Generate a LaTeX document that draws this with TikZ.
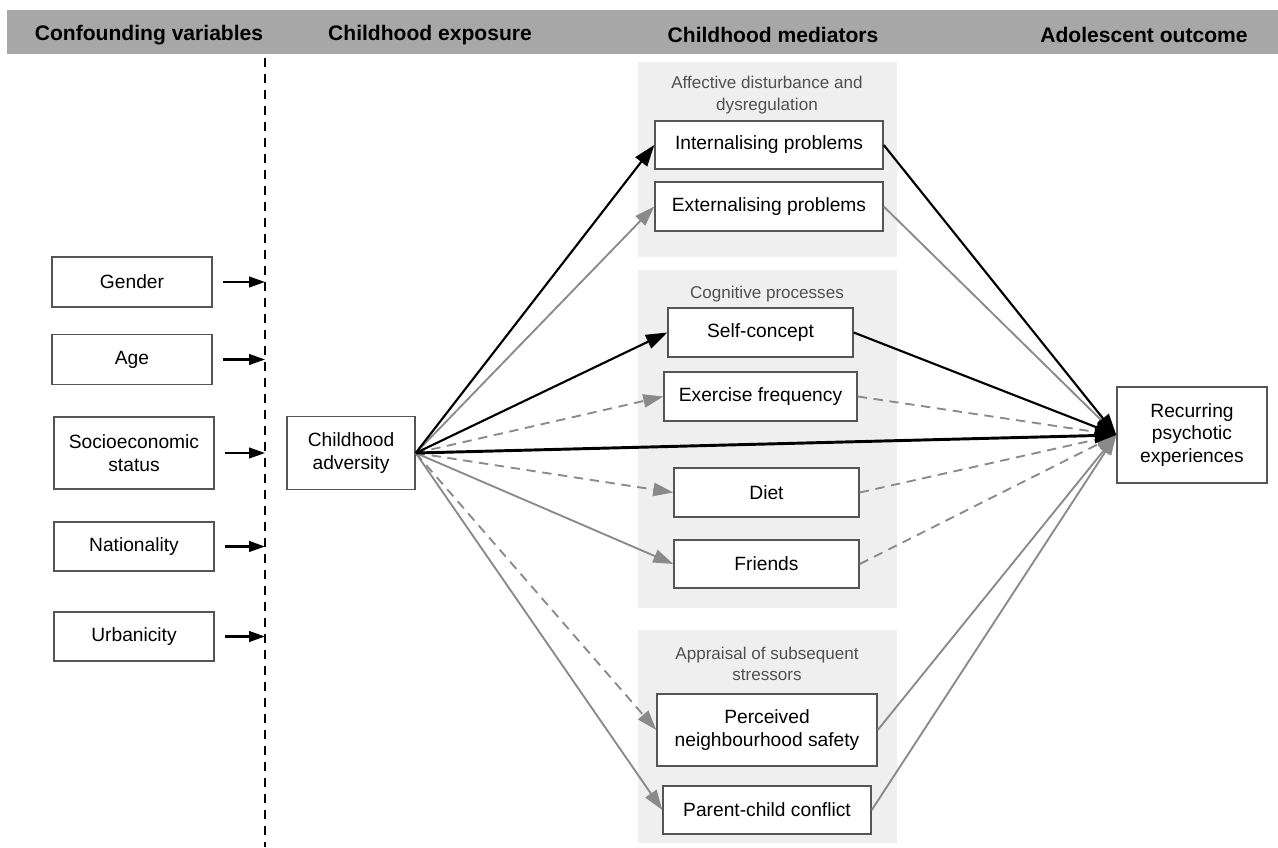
\documentclass[tikz,border=0pt]{standalone}
\usepackage{fontspec}
\setmainfont{Liberation Sans}
\usetikzlibrary{arrows.meta}
\definecolor{barGray}{HTML}{A7A7A7}
\definecolor{groupGray}{HTML}{EFEFEF}
\definecolor{lineGray}{HTML}{8A8A8A}
\definecolor{boxLine}{HTML}{555555}
\definecolor{labelGray}{HTML}{505050}

\begin{document}
\begin{tikzpicture}
[x=0.75pt,y=-0.75pt,
  darkArrow/.style={-{Triangle[length=16pt,width=11pt]},line width=1.6pt,color=black},
  thickArrow/.style={darkArrow,line width=2.2pt},
  smallArrow/.style={-{Triangle[length=12pt,width=8pt]},line width=1.6pt,color=black},
  greyArrow/.style={-{Triangle[length=15pt,width=10pt]},line width=1.4pt,color=lineGray},
  dashArrow/.style={greyArrow,dash pattern=on 7pt off 5pt},
  nodeDecorate/.style={shape=rectangle,draw=boxLine,line width=1.1pt,fill=white,
    align=center,inner sep=0pt,font=\fontsize{14.4}{17}\selectfont},
  headDecorate/.style={font=\fontsize{15.8}{18}\selectfont\bfseries},
  groupDecorate/.style={align=center,text=labelGray,font=\fontsize{12.8}{16}\selectfont}]
\useasboundingbox (0,0) rectangle (1278,847);
%% header bar
\fill[barGray] (7,10) rectangle (1278,54);
\foreach \nodename/\x/\txt in {hconf/149/Confounding variables, hexpo/430/Childhood exposure,
  hmedi/773/Childhood mediators, hout/1144/Adolescent outcome}
{
  \node (\nodename) at (\x,35) [headDecorate] {\txt};
}
%% mediator groups
\fill[groupGray] (638,62) rectangle (897,257);
\fill[groupGray] (638,270) rectangle (897,608);
\fill[groupGray] (638,630) rectangle (897,843);
\node (gaff) at (767,95) [groupDecorate] {Affective disturbance and\\dysregulation};
\node (gcog) at (767,294) [groupDecorate] {Cognitive processes};
\node (gapp) at (767,664) [groupDecorate] {Appraisal of subsequent\\stressors};
%% dashed divider
\coordinate (dtop) at (265,58);
\coordinate (dbot) at (265,847);
\draw[line width=1.3pt,dash pattern=on 7pt off 5pt] (dtop) -- (dbot);
%% nodes
\foreach \nodename/\x/\y/\w/\h/\txt in {
  gender/132/282/160/50/Gender, age/132/359.5/160/50/Age,
  ses/134/453/160/72/{Socioeconomic\\status}, nation/134/546.5/160/49/Nationality,
  urban/134/636.5/160/49/Urbanicity, adversity/351/453/128/73/{Childhood\\adversity},
  intern/769/145/228/48/Internalising problems, extern/769/206.5/228/49/Externalising problems,
  self/760.5/332.5/185/49/Self-concept, exer/760.5/396.5/193/49/Exercise frequency,
  diet/766.5/492.5/185/49/Diet, friends/766.5/564/185/48/Friends,
  safety/767/730/220/72/{Perceived\\neighbourhood safety}, conflict/767/810/208/48/Parent-child conflict,
  outcome/1192/435/150/96/{Recurring\\psychotic\\experiences}}
{
  \node (\nodename) at (\x,\y) [nodeDecorate,minimum width=0.75pt*\w,minimum height=0.75pt*\h] {\txt};
}
%% confounders onto the divider
\foreach \nodename in {gender, age, ses, nation, urban}
{
  \coordinate (\nodename-d) at (dtop |- \nodename.east);
  \draw[smallArrow,shorten <=7.5pt] (\nodename.east) -- (\nodename-d);
}
%% grey edges
\path
\foreach \startnode/\endnode in {adversity/extern, adversity/friends, adversity/conflict,
  extern/outcome, safety/outcome, conflict/outcome}
{
  (\startnode.east) edge[greyArrow] (\endnode.west)
}
%% dashed edges
\foreach \startnode/\endnode in {adversity/exer, adversity/diet, adversity/safety,
  exer/outcome, diet/outcome, friends/outcome}
{
  (\startnode.east) edge[dashArrow] (\endnode.west)
}
%% dark edges
\foreach \startnode/\endnode in {adversity/intern, adversity/self, intern/outcome, self/outcome}
{
  (\startnode.east) edge[darkArrow] (\endnode.west)
}
(adversity.east) edge[thickArrow] (outcome.west);
\end{tikzpicture}
\end{document}
